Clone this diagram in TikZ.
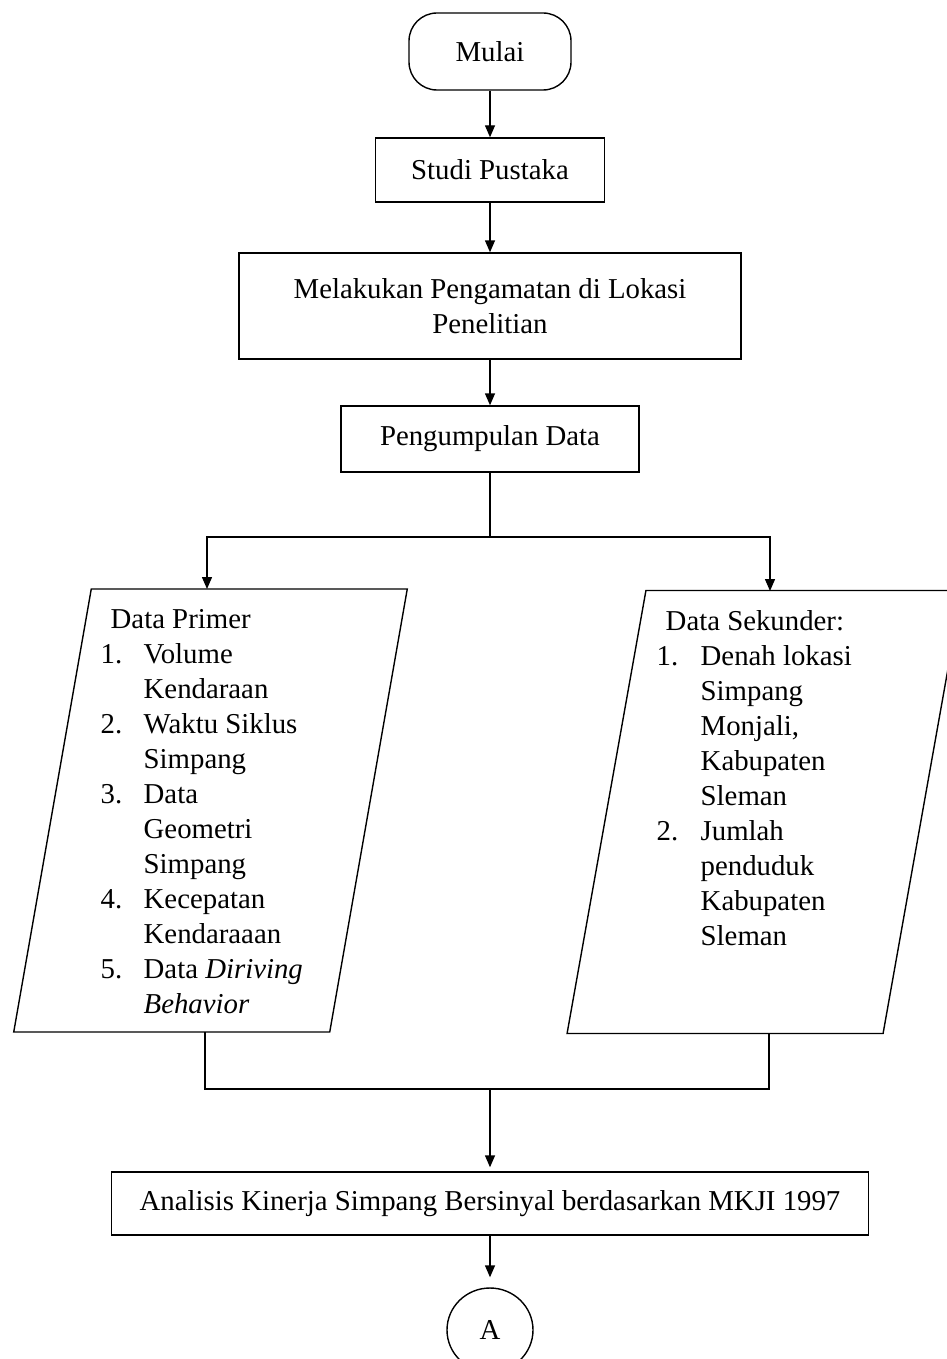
\documentclass[tikz,border=0pt]{standalone}
\usepackage{fontspec}
\setmainfont{Liberation Serif}
\usetikzlibrary{arrows.meta, shapes.geometric}

\begin{document}
\begin{tikzpicture}[->, >={Triangle[length=12pt, width=10pt]}, x=1pt, y=-1pt, line width=1.4pt,
		font=\fontsize{28.8}{35}\selectfont,
		proc/.style={draw, rectangle, minimum height=64pt, inner sep=0pt},
		term/.style={draw, rectangle, rounded corners=28pt, minimum width=162pt, minimum height=77pt},
		io/.style={draw, rectangle, transform shape, minimum width=316pt, minimum height=443pt},
		conn/.style={draw, ellipse, minimum width=86pt, minimum height=84pt, inner sep=0pt},
		list/.style={anchor=north west, inner sep=0pt}]
		\clip (0, 0) rectangle (947, 1359);
		
		\node[term] (mulai) at (490, 51.5) {Mulai};
		\node[proc, minimum width=229pt] (studi) at (490, 170) {Studi Pustaka};
		\node[proc, minimum width=502pt, minimum height=106pt, align=center] (amat) at (490, 306) {Melakukan Pengamatan di Lokasi\\Penelitian};
		\node[proc, minimum width=298pt, minimum height=66pt] (kumpul) at (490, 439) {Pengumpulan Data};
		\begin{scope}[shift={(210.5, 810.5)}, xslant=0.175]
			\node[io] (primer) at (0, 0) {};
		\end{scope}
		\begin{scope}[shift={(764.5, 812)}, xslant=0.178]
			\node[io] (sekunder) at (0, 0) {};
		\end{scope}
		\node[proc, minimum width=757pt, minimum height=63pt] (analisis) at (490, 1203.5) {Analisis Kinerja Simpang Bersinyal berdasarkan MKJI 1997};
		\node[conn] (a) at (490, 1330) {A};
		
		% isi data
		\node[list] (primerlist) at (100, 603) {\begin{tabular}{@{}p{43pt}@{}l@{}}
				\multicolumn{2}{@{}l@{}}{\hspace*{10pt}Data Primer}\\
				1. & Volume\\
				& Kendaraan\\
				2. & Waktu Siklus\\
				& Simpang\\
				3. & Data\\
				& Geometri\\
				& Simpang\\
				4. & Kecepatan\\
				& Kendaraaan\\
				5. & Data \textit{Diriving}\\
				& \textit{Behavior}
			\end{tabular}};
		\node[list] (sekunderlist) at (656, 605) {\begin{tabular}{@{}p{44pt}@{}l@{}}
				\multicolumn{2}{@{}l@{}}{\hspace*{9pt}Data Sekunder:}\\
				1. & Denah lokasi\\
				& Simpang\\
				& Monjali,\\
				& Kabupaten\\
				& Sleman\\
				2. & Jumlah\\
				& penduduk\\
				& Kabupaten\\
				& Sleman
			\end{tabular}};
		
		\coordinate (split) at (490, 537);
		\coordinate (primerin) at (207, 589);
		\coordinate (sekunderin) at (770, 591);
		\coordinate (primerout) at (205, 1032);
		\coordinate (sekunderout) at (769, 1033);
		\coordinate (join) at (490, 1089);
		
		\path (mulai) edge (studi)
			(studi) edge (amat)
			(amat) edge (kumpul)
			(join) edge[shorten >=4pt] (analisis)
			(analisis) edge[shorten >=10pt] (a);
		\draw[-] (kumpul) -- (split);
		\draw (split) -| (primerin);
		\draw (split) -| (sekunderin);
		\draw[-] (primerout) |- (join) -| (sekunderout);
	\end{tikzpicture}
\end{document}
